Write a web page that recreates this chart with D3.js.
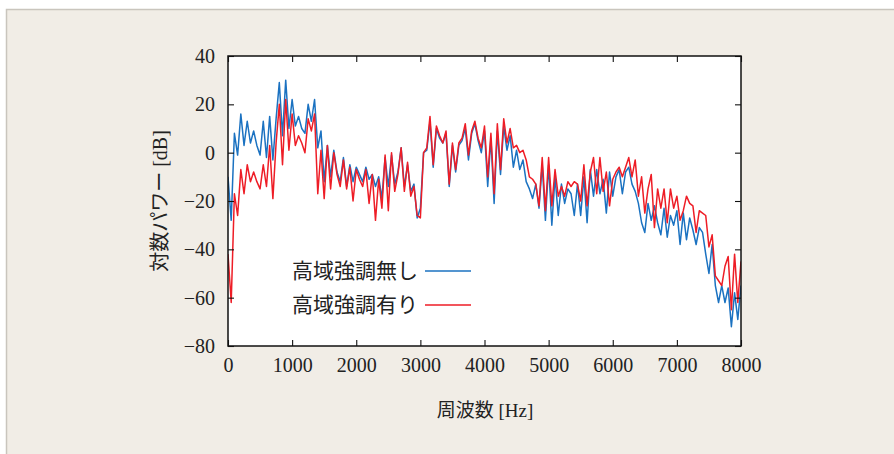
<!DOCTYPE html>
<html><head><meta charset="utf-8">
<script src="https://cdn.jsdelivr.net/npm/d3@7"></script>
<style>
html,body{margin:0;padding:0;background:#fff;}
svg{display:block;}
</style></head>
<body>
<svg id="chart" width="894" height="454"></svg>
<script>
// Frequency bins (Hz), 50 Hz step, 0..8000
const freqStep = 50;
// 高域強調無し (blue) [dB]
const seriesNoEmphasis = [
 -10,-28,8,-1,16,3,13,4,9,3,-1,13,-2,15,-3,14,29,7,30,10,
 22,11,15,10,8,20,13,22,2,9,-12,3,-10,1,-8,-12,-2,-14,-5,-12,
 -6,-9,-12,-6,-11,-9,-14,-10,-19,-2,-14,-1,-13,-8,2,-14,-5,-16,-13,-27,
 -23,0,1,13,-6,10,6,4,8,-14,3,-8,3,5,10,-3,8,12,5,0,
 9,-14,6,-21,9,-9,11,1,7,-6,1,-7,-3,-12,-15,-19,-13,-23,-5,-28,
 -5,-30,-10,-26,-13,-21,-15,-17,-26,-13,-26,-10,-29,-7,-18,-7,-17,-11,-25,-8,
 -18,-10,-7,-17,-8,-6,-13,-16,-21,-29,-33,-21,-28,-22,-29,-34,-23,-35,-26,-30,
 -24,-38,-25,-36,-27,-32,-38,-31,-33,-42,-50,-38,-55,-62,-55,-62,-56,-72,-58,-69,
 -55
];
// 高域強調有り (red) [dB]
const seriesEmphasis = [
 -42,-62,-17,-26,-7,-17,-5,-12,-8,-12,-15,-5,-14,3,-19,4,20,-5,22,1,
 16,3,7,4,0,14,9,16,-17,1,-19,3,-15,0,-9,-14,-3,-15,-6,-20,
 -7,-11,-14,-7,-21,-9,-28,-11,-23,-1,-24,0,-16,-9,2,-16,-4,-18,-14,-26,
 -27,0,2,15,-5,11,7,4,9,-13,4,-7,4,6,12,-1,9,13,6,2,
 11,-10,8,-17,12,-7,14,4,10,2,3,0,1,-3,-10,-11,-13,-22,-2,-24,
 -2,-22,-7,-18,-14,-18,-12,-14,-12,-13,-20,-5,-22,-8,-2,-17,-2,-16,-8,-22,
 -11,-8,-6,-10,-6,-2,-10,-3,-18,-10,-25,-15,-9,-31,-15,-23,-15,-29,-15,-23,
 -18,-28,-24,-18,-21,-22,-33,-24,-25,-26,-39,-34,-51,-53,-55,-47,-43,-65,-42,-62,
 -45
];
const xTicks = [0,1000,2000,3000,4000,5000,6000,7000,8000];
const yTicks = [-80,-60,-40,-20,0,20,40];
const legendLabels = ["高域強調無し","高域強調有り"];
const colors = ["#1b72c1","#ee1d26"];

const svg = d3.select("#chart");
svg.append("rect").attr("x",0).attr("y",0).attr("width",894).attr("height",454).attr("fill","#ffffff");
svg.append("rect").attr("x",6.5).attr("y",9.5).attr("width",900).attr("height",460)
  .attr("fill","#f1ede6").attr("stroke","#c9c5bd").attr("stroke-width",1.5);

const L=228, R=741, T=56, B=346;
const x = d3.scaleLinear().domain([0,8000]).range([L,R]);
const y = d3.scaleLinear().domain([-80,40]).range([B,T]);

svg.append("rect").attr("x",L).attr("y",T).attr("width",R-L).attr("height",B-T).attr("fill","#fff");

const defs = svg.append("defs");
defs.append("clipPath").attr("id","clip").append("rect").attr("x",L).attr("y",T).attr("width",R-L).attr("height",B-T);

const mkData = arr => arr.map((v,i)=>({f:i*freqStep, v}));
const line = d3.line().x(d=>x(d.f)).y(d=>y(d.v));
const g = svg.append("g").attr("clip-path","url(#clip)");
[seriesNoEmphasis, seriesEmphasis].forEach((s,i)=>{
  g.append("path").datum(mkData(s)).attr("d",line).attr("fill","none")
   .attr("stroke",colors[i]).attr("stroke-width",1.5).attr("stroke-linejoin","round");
});

const font = "'Liberation Serif','DejaVu Serif',serif";
const axB = d3.axisBottom(x).tickValues(xTicks).tickSize(-6).tickPadding(12).tickFormat(d3.format("d"));
const axT = d3.axisTop(x).tickValues(xTicks).tickSize(-6).tickFormat("");
const axL = d3.axisLeft(y).tickValues(yTicks).tickSize(-6).tickPadding(13).tickFormat(d3.format("d"));
const axR = d3.axisRight(y).tickValues(yTicks).tickSize(-6).tickFormat("");
function styleAxis(sel){
  sel.select(".domain").remove();
  sel.selectAll(".tick line").attr("stroke","#111").attr("stroke-width",1.1);
  sel.selectAll(".tick text").attr("fill","#222").style("font-family",font).style("font-size","20px");
}
svg.append("g").attr("transform",`translate(0,${B})`).call(axB).call(styleAxis);
svg.append("g").attr("transform",`translate(0,${T})`).call(axT).call(styleAxis);
svg.append("g").attr("transform",`translate(${L},0)`).call(axL).call(styleAxis);
svg.append("g").attr("transform",`translate(${R},0)`).call(axR).call(styleAxis);

svg.append("rect").attr("x",L).attr("y",T).attr("width",R-L).attr("height",B-T)
  .attr("fill","none").attr("stroke","#111").attr("stroke-width",1.5);

const cjk = "'Liberation Serif','Noto Sans CJK JP',serif";
svg.append("text").attr("x",485).attr("y",417).attr("text-anchor","middle")
  .style("font-family",cjk).style("font-size","19px").attr("fill","#222").text("周波数 [Hz]");
svg.append("text").attr("transform","translate(167,201) rotate(-90)").attr("text-anchor","middle")
  .style("font-family",cjk).style("font-size","20px").attr("fill","#222").text("対数パワー [dB]");

legendLabels.forEach((t,i)=>{
  const yy = 271 + i*34;
  svg.append("text").attr("x",418).attr("y",yy+7).attr("text-anchor","end")
    .style("font-family",cjk).style("font-size","21px").attr("fill","#222").text(t);
  svg.append("line").attr("x1",425).attr("x2",471).attr("y1",yy).attr("y2",yy)
    .attr("stroke",colors[i]).attr("stroke-width",1.5);
});
</script>
</body></html>
